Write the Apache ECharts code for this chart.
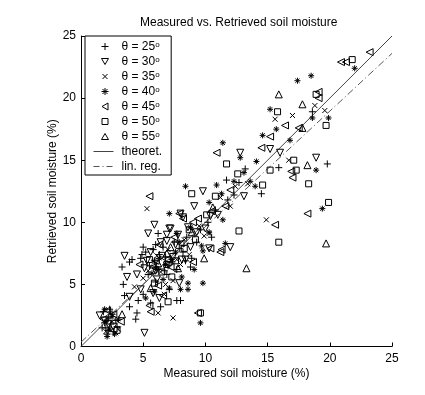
<!DOCTYPE html>
<html><head><meta charset="utf-8">
<script src="https://cdn.jsdelivr.net/npm/echarts@6/dist/echarts.min.js"></script>
<style>html,body{margin:0;padding:0;background:#fff}#c{width:425px;height:395px}</style>
</head><body><div id="c"></div>
<script>
var title = 'Measured vs. Retrieved soil moisture';
var xName = 'Measured soil moisture (%)';
var yName = 'Retrieved soil moisture (%)';
var seriesNames = ['θ = 25º','θ = 30º','θ = 35º','θ = 40º','θ = 45º','θ = 50º','θ = 55º','theoret.','lin. reg.'];

var theta25 = [[2.0,1.5],[2.2,2.3],[2.4,1.8],[1.8,2.8],[2.6,1.2],[2.1,1.0],[2.9,1.6],[2.3,3.0],
 [1.9,1.9],[2.5,2.6],[2.2,1.3],[2.8,2.1],[1.7,1.5],
 [3.3,6.4],[3.9,6.8],[3.4,5.0],[3.5,4.1],[3.9,3.2],[4.6,3.7],[4.5,2.7],[4.4,2.2],[4.9,7.4],[4.1,7.0],[4.8,7.1],
 [5.2,7.6],[5.5,6.5],[5.8,7.8],[6.2,6.2],[6.6,8.0],[6.8,7.2],[7.1,4.6],[7.3,6.8],[7.5,8.4],[7.7,3.7],
 [8.0,3.7],[8.2,7.6],[8.9,7.1],[8.8,6.4],[5.0,4.2],[5.6,3.5],[6.0,5.2],[6.4,3.2],[6.9,5.8],[7.7,6.2],
 [5.9,6.9],[6.3,7.4],[7.0,6.5],[6.0,8.2],[7.9,7.9],[5.4,5.8],[6.7,6.1],[8.4,6.9],[6.2,9.1],[5.0,8.0],
 [8.5,8.8],[9.6,9.4],[10.2,10.0],[10.8,11.0],[11.8,11.8],[12.3,12.2],[11.7,13.4],[12.7,13.2],[14.5,12.3],
 [15.9,14.4],[19.8,14.7],[18.6,18.9],[13.2,14.3],[9.3,8.4],[10.5,8.8]];
var theta30 = [[1.5,2.5],[2.2,1.8],[2.6,1.6],[1.9,2.1],[5.1,1.1],[3.5,7.3],[3.7,5.6],[3.9,4.0],[5.4,9.1],[5.9,9.8],[7.2,9.5],
 [8.0,10.7],[8.4,7.0],[7.1,9.5],[6.9,9.0],[8.2,10.4],[10.4,10.5],[9.8,12.5],[9.1,11.3],[8.1,7.0],[7.9,5.1],
 [10.3,7.9],[12.0,8.0],[13.1,12.1],[12.8,15.6],[15.2,15.9],[16.0,15.6],[18.9,15.2],[4.5,5.8],[5.3,6.9],
 [6.1,5.4],[6.5,7.3],[5.8,4.3],[7.6,8.2],[9.3,9.2],[6.3,3.9],[4.8,4.6],[8.8,8.0],[11.0,10.6],[10.0,9.5],
 [5.6,7.6],[6.4,8.4],[7.4,7.2],[6.0,6.1],[6.9,8.5],[7.8,9.0],[5.1,6.3],[8.6,9.6]];
var theta35 = [[2.5,2.0],[2.0,1.2],[3.0,1.4],[2.3,2.7],[2.8,1.1],[5.3,11.1],[6.2,2.7],[7.4,2.3],[10.3,9.1],[14.9,10.2],[15.6,18.3],
 [17.0,18.6],[19.6,19.0],[16.7,15.0],[13.4,13.1],[5.0,5.5],[5.9,6.8],[6.4,6.0],[7.0,7.8],[7.4,5.3],[8.3,8.6],
 [8.7,7.4],[9.5,9.7],[11.2,12.0],[12.0,11.3],[6.7,4.2],[4.3,4.8],[9.9,8.9],[18.8,19.4],[12.4,12.9],
 [6.1,7.3],[7.7,7.0],[5.4,6.1],[8.0,6.6],[6.8,5.0]];
var theta40 = [[2.3,1.4],[2.7,1.0],[2.0,2.0],[1.9,3.0],[2.5,2.4],[2.1,0.8],[3.0,2.2],[7.1,10.7],[8.8,9.6],[11.6,8.3],[9.7,8.1],[9.8,7.7],
 [8.6,5.1],[8.6,4.6],[8.0,4.6],[9.8,5.1],[9.6,1.9],[8.4,12.9],[11.4,10.2],[10.3,9.2],[11.3,12.3],[10.3,11.6],
 [11.4,16.4],[15.2,19.1],[17.4,21.4],[18.5,21.8],[22.0,22.4],[19.9,18.4],[18.6,18.4],[15.7,17.5],[14.6,17.0],
 [16.8,16.6],[18.9,14.2],[19.4,11.1],[12.3,13.3],[13.1,14.0],[13.6,13.3],[14.1,14.9],[6.0,6.3],[6.8,6.6],
 [7.3,7.0],[5.7,5.9],[5.2,3.9],[7.7,9.1],[10.9,13.0],[12.8,15.2],[7.1,4.7],
 [6.3,7.1],[7.6,7.6],[6.6,5.4],[7.9,8.4],[5.9,4.4],[9.1,6.2],[8.1,5.6],[14.0,12.9]];
var theta45 = [[1.8,2.2],[2.6,2.6],[2.1,2.9],[3.2,2.0],[5.5,12.1],[5.6,2.8],[9.4,2.7],[7.9,10.7],[8.2,10.3],[9.4,10.3],[10.4,7.9],
 [11.3,7.8],[11.2,7.6],[11.6,11.3],[10.5,10.9],[18.2,10.7],[15.6,9.8],[10.9,15.6],[14.5,16.0],[15.2,16.9],
 [16.4,17.8],[17.5,17.6],[16.9,14.1],[17.0,13.6],[19.1,20.5],[19.1,20.0],[20.9,22.9],[21.3,22.9],[23.2,23.7],
 [5.5,3.3],[6.0,6.9],[6.6,4.1],[7.2,6.4],[8.0,8.3],[9.0,10.0],[4.7,6.6],[12.0,12.6],[6.3,8.2],
 [6.9,7.0],[5.8,6.4],[7.5,8.8],[6.2,4.9],[9.0,6.8]];
var theta50 = [[9.6,2.7],[12.7,9.3],[15.9,8.4],[19.9,11.6],[14.6,13.0],[18.3,13.1],[10.8,12.1],[8.9,12.3],
 [11.7,14.7],[15.2,14.2],[17.3,14.2],[17.1,15.0],[19.7,17.8],[15.8,18.9],[18.9,20.3],[21.8,23.1],[6.5,6.0],
 [7.0,3.6],[7.6,6.9],[8.3,7.9],[5.9,5.1],[10.1,10.6],[9.2,8.6],[12.6,13.9],
 [2.9,1.3],[6.9,6.6],[5.5,7.0],[7.3,5.6],[8.7,9.4]];
var theta55 = [[13.3,6.3],[19.7,8.3],[15.9,20.3],[17.8,19.5],[17.8,17.6],[18.2,14.6],[6.9,7.5],[7.8,6.3],
 [5.6,4.7],[8.9,9.2],[10.6,11.2],[9.9,7.1],[7.2,8.0],[6.2,6.7],[3.3,2.6]];
var theoretLine = [[0,0],[25,25]];
var linRegLine = [[0,0.35],[25,23.6]];
var xTicks = [0,5,10,15,20,25];
var yTicks = [0,5,10,15,20,25];

var PLUS = 'path://M1 0L1 2M0 1L2 1';
var CROSS = 'path://M0 0L2 2M0 2L2 0';
var STAR = 'path://M1 0L1 2M0 1L2 1M0.3 0.3L1.7 1.7M0.3 1.7L1.7 0.3';
var BOX = 'path://M0 0M21 12';
var legendIcons = [
  BOX+'M12.5 2.5L12.5 9.5M9 6L16 6',
  BOX+'M9 3L16 3L12.5 9Z',
  BOX+'M10 3.5L15 8.5M10 8.5L15 3.5',
  BOX+'M12.5 2.5L12.5 9.5M9 6L16 6M10 3.5L15 8.5M10 8.5L15 3.5',
  BOX+'M15.5 2.5L15.5 9.5L9.5 6Z',
  BOX+'M9.5 3L15.5 3L15.5 9L9.5 9Z',
  BOX+'M9 9L16 9L12.5 3Z',
  BOX+'M1 6L21 6',
  BOX+'M1 6L7 6M10 6L11 6M14 6L20 6'
];
var lineCol = '#000';
var ms = {color:'rgba(0,0,0,0)', borderColor:lineCol, borderWidth:1, opacity:1};
function sc(name, data, symbol, size, rot){
  return {type:'scatter', name:name, data:data, symbol:symbol, symbolSize:size, symbolRotate:rot||0,
    itemStyle:ms, emphasis:{disabled:true}, animation:false, z:3};
}
var legendData = seriesNames.map(function(n,i){
  return {name:n, icon:legendIcons[i], itemStyle:{color:'rgba(0,0,0,0)', borderColor:i===7?'#444':(i===8?'#555':'#000'), borderWidth:1, opacity:1}};
});
var chart = echarts.init(document.getElementById('c'), null, {renderer:'canvas'});
var font = 'Liberation Sans, Arial, sans-serif';
chart.setOption({
  animation:false,
  textStyle:{fontFamily:font},
  title:{text:title, left:140, top:17, padding:0, textStyle:{fontSize:12, fontWeight:'normal', color:'#000', fontFamily:font}},
  grid:{left:81, top:36, width:311, height:310.5},
  xAxis:{type:'value', min:0, max:25, interval:5, name:xName, nameLocation:'middle', nameGap:21, nameMoveOverlap:false,
    nameTextStyle:{fontSize:12, color:'#000', fontFamily:font},
    axisLine:{lineStyle:{color:'#000', width:1}}, axisTick:{inside:true, length:4, lineStyle:{color:'#000'}},
    axisLabel:{margin:6, fontSize:12, color:'#000', fontFamily:font, formatter:function(v){return xTicks.indexOf(v)>=0?String(v):'';}},
    splitLine:{show:false}},
  yAxis:{type:'value', min:0, max:25, interval:5, name:yName, nameLocation:'middle', nameGap:22, nameMoveOverlap:false,
    nameTextStyle:{fontSize:12, color:'#000', fontFamily:font},
    axisLine:{show:true, lineStyle:{color:'#000', width:1}}, axisTick:{show:true, inside:true, length:4, lineStyle:{color:'#000'}},
    axisLabel:{margin:5, fontSize:12, color:'#000', fontFamily:font, formatter:function(v){return yTicks.indexOf(v)>=0?String(v):'';}},
    splitLine:{show:false}},
  legend:{orient:'vertical', left:85, top:36, padding:[4,9,2,7], itemGap:2, itemWidth:21, itemHeight:12,
    borderColor:'#000', borderWidth:1, backgroundColor:'#fff', data:legendData, selectedMode:false,
    formatter:function(n){ return n.indexOf('º')>=0 ? '{a|'+n.replace('º','')+'}{s|o}' : '{a|'+n+'}'; },
    textStyle:{fontSize:12, lineHeight:12, color:'#000', fontFamily:font, padding:[0,0,0,3],
      rich:{a:{fontSize:12, lineHeight:12, color:'#000', fontFamily:font}, s:{fontSize:8, lineHeight:12, color:'#000', fontFamily:font, verticalAlign:'top', padding:[0,0,4,0]}}}},
  series:[
    sc(seriesNames[0], theta25, PLUS, 7),
    sc(seriesNames[1], theta30, 'triangle', 7, 180),
    sc(seriesNames[2], theta35, CROSS, 5),
    sc(seriesNames[3], theta40, STAR, 6),
    sc(seriesNames[4], theta45, 'triangle', 7, 90),
    sc(seriesNames[5], theta50, 'rect', 6),
    sc(seriesNames[6], theta55, 'triangle', 7),
    {type:'line', name:seriesNames[7], data:theoretLine, symbol:'none', itemStyle:{color:'#444'}, lineStyle:{color:'#444', width:1}, z:2, animation:false},
    {type:'line', name:seriesNames[8], data:linRegLine, symbol:'none', itemStyle:{color:'#555'}, lineStyle:{color:'#555', width:1, type:[7,3,1,3]}, z:2, animation:false}
  ]
});
</script></body></html>
